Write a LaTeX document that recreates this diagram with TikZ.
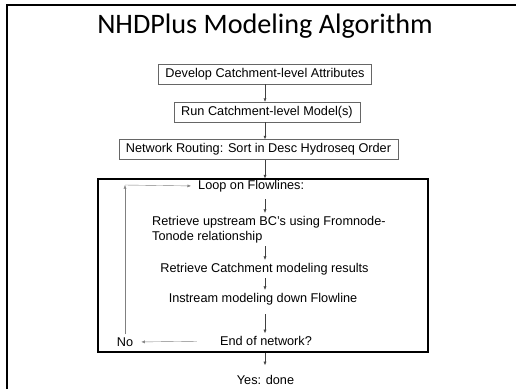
\documentclass[tikz,border=0pt]{standalone}
\usepackage{fontspec}
\setmainfont{Liberation Sans}
\newfontfamily\titlefont{Carlito}
\usetikzlibrary{positioning}
\usetikzlibrary{arrows.meta}

\begin{document}
\begin{tikzpicture}[x=1pt,y=-1pt,
 stepbox/.style={draw=gray!80!black,thin,inner xsep=7pt,minimum height=20pt,font=\fontsize{12.7}{15}\selectfont},
 txt/.style={inner xsep=3pt,inner ysep=3pt,font=\fontsize{12.7}{15}\selectfont},
 arr/.style={-{Latex[length=3.5pt,width=3pt]},black!75,thin}]
 \useasboundingbox (0,0) rectangle (516,389);
 \draw[line width=2pt](7,389)--(7,5)--(516,5); 
 \node[font=\titlefont\fontsize{28.2}{30}\selectfont] (title) at (265,26) {NHDPlus Modeling Algorithm};
 \node[stepbox] (dev) at (265,74) {Develop Catchment-level Attributes};
 \node[stepbox] (run) at (267,112) {Run Catchment-level Model(s)};
 \node[stepbox] (route) at (258.5,149.5) {Network Routing: Sort in Desc Hydroseq Order};
 \node[draw,line width=1.3pt,inner sep=0pt,minimum width=330pt,minimum height=173pt] (loopbox) at (263,265.5) {};
 % inside the loop
 \node[txt,anchor=west] (loop) at (195,186) {Loop on Flowlines:};
 \node[txt,anchor=west,align=left] (retr) at (149,229.5) {Retrieve upstream BC's using Fromnode-\\Tonode relationship};
 \node[txt] (catch) at (264.5,269) {Retrieve Catchment modeling results};
 \node[txt] (inst) at (263,299) {Instream modeling down Flowline};
 \node[txt] (endn) at (266,341) {End of network?};
 \node[txt] (no) at (125,342) {No};
 \node[txt] (yes) at (265.5,380) {Yes: done};
 \coordinate (turn) at (no.north |- 0,185);
 % connectors
 \draw[arr](dev.south -| 265,0)--(265,0 |- run.north);
 \draw[arr](run.south -| 265,0)--(265,0 |- route.north);
 \draw[arr](route.south -| 265,0)--(265,0 |- loopbox.north);
 \draw[arr,shorten <=4pt](loop.south -| 265,0)--(265,0 |- retr.north);
 \draw[arr](retr.south -| 265,0)--(265,0 |- catch.north);
 \draw[arr](catch.south -| 265,0)--(265,0 |- inst.north);
 \draw[arr,shorten <=6pt](inst.south -| 265,0)--(265,0 |- endn.north);
 \draw[arr,gray,shorten <=20pt,shorten >=5pt](endn.west)--(no.east);
 \draw[arr,gray](no.north)--(turn);
 \draw[arr,gray,shorten >=4pt](turn)--(loop.west);
 \draw[arr,shorten >=7pt](loopbox.south -| 265,0)--(265,0 |- yes.north);
\end{tikzpicture}
\end{document}
